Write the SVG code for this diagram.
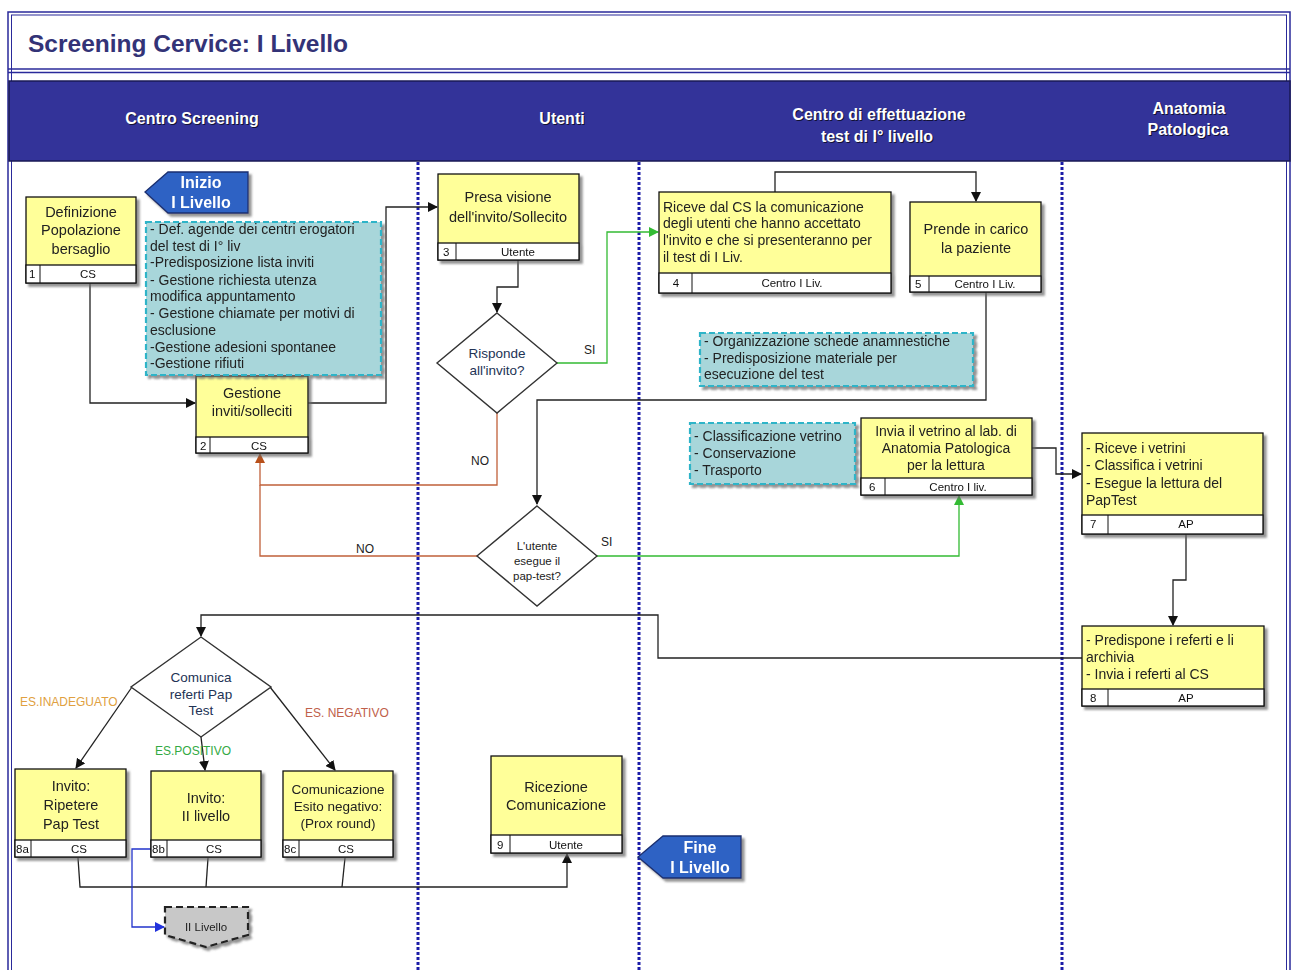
<svg xmlns="http://www.w3.org/2000/svg" width="1293" height="970" viewBox="0 0 1293 970">
<style>
.box{fill:#ffff99;stroke:#111;stroke-width:1.3}
.ft{fill:#fff;stroke:#111;stroke-width:1.3}
.t{font-family:"Liberation Sans",Arial,sans-serif;font-size:14.5px;fill:#222;text-anchor:middle}
.tl{font-family:"Liberation Sans",Arial,sans-serif;font-size:14px;fill:#222}
.f{font-family:"Liberation Sans",Arial,sans-serif;font-size:11.5px;fill:#111;text-anchor:middle}
.fn{font-family:"Liberation Sans",Arial,sans-serif;font-size:11.5px;fill:#111}
.note{fill:#a8d6da;stroke:#2fb4c8;stroke-width:2.2;stroke-dasharray:6,3}
.dia{fill:#fff;stroke:#333;stroke-width:1.4}
.dt{font-family:"Liberation Sans",Arial,sans-serif;font-size:13.5px;fill:#223355;text-anchor:middle}
.hd{font-family:"Liberation Sans",Arial,sans-serif;font-size:16px;font-weight:bold;fill:#fff;text-anchor:middle}
.hds{font-family:"Liberation Sans",Arial,sans-serif;font-size:16px;font-weight:bold;fill:#111133;text-anchor:middle}
.lane{stroke:#1c1ca8;stroke-width:3;stroke-dasharray:3,2}
.c{fill:none;stroke:#222;stroke-width:1.3}
.cg{fill:none;stroke:#33bb33;stroke-width:1.3}
.co{fill:none;stroke:#c0603a;stroke-width:1.3}
.cb{fill:none;stroke:#2233cc;stroke-width:1.3}
.lbl{font-family:"Liberation Sans",Arial,sans-serif;font-size:12px;fill:#222}
.blue{fill:#2f62c4;stroke:#1a2f70;stroke-width:1.3}
.bt{font-family:"Liberation Sans",Arial,sans-serif;font-size:16px;font-weight:bold;fill:#fff;text-anchor:middle}
</style>
<defs>
<filter id="sh" x="-10%" y="-10%" width="130%" height="130%">
<feDropShadow dx="3" dy="3" stdDeviation="1" flood-color="#666" flood-opacity="0.7"/>
</filter>
<marker id="ak" markerWidth="10" markerHeight="10" refX="9" refY="5" orient="auto" markerUnits="userSpaceOnUse"><path d="M0,0 L10,5 L0,10 z" fill="#111"/></marker>
<marker id="ag" markerWidth="10" markerHeight="10" refX="9" refY="5" orient="auto" markerUnits="userSpaceOnUse"><path d="M0,0 L10,5 L0,10 z" fill="#33bb33"/></marker>
<marker id="ao" markerWidth="10" markerHeight="10" refX="9" refY="5" orient="auto" markerUnits="userSpaceOnUse"><path d="M0,0 L10,5 L0,10 z" fill="#b8501a"/></marker>
<marker id="ab" markerWidth="10" markerHeight="10" refX="9" refY="5" orient="auto" markerUnits="userSpaceOnUse"><path d="M0,0 L10,5 L0,10 z" fill="#2233dd"/></marker>
</defs>
<rect width="1293" height="970" fill="#fff"/>
<g id="frame">
<rect x="8" y="12" width="1282" height="962" fill="none" stroke="#2a2a9a" stroke-width="1.5"/>
<rect x="11.5" y="15" width="1275" height="960" fill="none" stroke="#2a2a9a" stroke-width="1"/>
<line x1="8" y1="69" x2="1290" y2="69" stroke="#2a2a9a" stroke-width="1.5"/>
<line x1="8" y1="72.5" x2="1290" y2="72.5" stroke="#2a2a9a" stroke-width="1.5"/>
<rect x="9" y="81" width="1281" height="80" fill="#333399" stroke="#1a1a55" stroke-width="1.5"/>
<text x="28" y="52" font-family="'Liberation Sans',Arial,sans-serif" font-size="24.5" font-weight="bold" fill="#333377">Screening Cervice: I Livello</text>
<text x="193" y="125" class="hds">Centro Screening</text><text x="192" y="124" class="hd">Centro Screening</text>
<text x="563" y="125" class="hds">Utenti</text><text x="562" y="124" class="hd">Utenti</text>
<text x="880" y="121" class="hds">Centro di effettuazione</text><text x="879" y="120" class="hd">Centro di effettuazione</text>
<text x="878" y="143" class="hds">test di I° livello</text><text x="877" y="142" class="hd">test di I° livello</text>
<text x="1190" y="115" class="hds">Anatomia</text><text x="1189" y="114" class="hd">Anatomia</text>
<text x="1189" y="136" class="hds">Patologica</text><text x="1188" y="135" class="hd">Patologica</text>
<line x1="418" y1="162" x2="418" y2="970" class="lane"/>
<line x1="639" y1="162" x2="639" y2="970" class="lane"/>
<line x1="1062" y1="162" x2="1062" y2="970" class="lane"/>
</g>
<g id="connectors">
<path class="c" d="M90,283 V403 H195" marker-end="url(#ak)"/>
<path class="c" d="M308,403 H386 V207 H437" marker-end="url(#ak)"/>
<path class="c" d="M518,260 V287 H497 V312" marker-end="url(#ak)"/>
<path class="cg" d="M556,363 H607 V232 H658" marker-end="url(#ag)"/>
<path class="co" d="M497,413 V485 H260 V454" marker-end="url(#ao)"/>
<path class="co" d="M477,556 H260 V485"/>
<path class="c" d="M775,192 V172 H976 V201" marker-end="url(#ak)"/>
<path class="c" d="M986,292 V400 H537 V504" marker-end="url(#ak)"/>
<path class="cg" d="M597,556 H959 V496" marker-end="url(#ag)"/>
<path class="c" d="M1032,448 H1056 V474 H1081" marker-end="url(#ak)"/>
<path class="c" d="M1186,534 V580 H1173 V625" marker-end="url(#ak)"/>
<path class="c" d="M1082,658 H658 V615 H201 V636" marker-end="url(#ak)"/>
<path class="c" d="M132,687 L76,768" marker-end="url(#ak)" stroke-width="1.6"/>
<path class="c" d="M201,737 L205,770" marker-end="url(#ak)" stroke-width="1.6"/>
<path class="c" d="M270,687 L335,770" marker-end="url(#ak)" stroke-width="1.6"/>
<path class="c" d="M78,858 L80,887 H567 V854" marker-end="url(#ak)"/>
<path class="c" d="M208,858 L206,887"/>
<path class="c" d="M345,858 L342,887"/>
<path class="cb" d="M151,849 H132 V927 H164" marker-end="url(#ab)"/>
<text x="584" y="354" class="lbl">SI</text>
<text x="471" y="465" class="lbl">NO</text>
<text x="356" y="553" class="lbl">NO</text>
<text x="601" y="546" class="lbl">SI</text>
<text x="20" y="706" class="lbl" style="fill:#e0a040">ES.INADEGUATO</text>
<text x="155" y="755" class="lbl" style="fill:#33aa44">ES.POSITIVO</text>
<text x="305" y="717" class="lbl" style="fill:#c0604a">ES. NEGATIVO</text>
</g>
<g id="inizio" filter="url(#sh)">
<polygon class="blue" points="145,192 168,172 248,172 248,213 168,213"/>
<text x="201" y="188" class="bt">Inizio</text>
<text x="201" y="208" class="bt">I Livello</text>
</g>
<g id="n1" filter="url(#sh)">
<rect class="box" x="26" y="197" width="110" height="86"/>
<rect class="ft" x="26" y="265" width="110" height="18"/>
<line x1="40" y1="265" x2="40" y2="283" stroke="#111"/>
<text x="81" y="217" class="t">Definizione</text>
<text x="81" y="235" class="t">Popolazione</text>
<text x="81" y="254" class="t">bersaglio</text>
<text x="29" y="278" class="fn">1</text><text x="88" y="278" class="f">CS</text>
</g>
<g id="n2" filter="url(#sh)">
<rect class="box" x="196" y="376" width="112" height="77"/>
<rect class="ft" x="196" y="437" width="112" height="16"/>
<line x1="210" y1="437" x2="210" y2="453" stroke="#111"/>
<text x="252" y="398" class="t">Gestione</text>
<text x="252" y="416" class="t">inviti/solleciti</text>
<text x="200" y="450" class="fn">2</text><text x="259" y="450" class="f">CS</text>
</g>
<g id="note1" filter="url(#sh)">
<rect class="note" x="146" y="222" width="235" height="153"/>
<text x="150" y="234" class="tl">- Def. agende dei centri erogatori</text>
<text x="150" y="251" class="tl">del test di I° liv</text>
<text x="150" y="267" class="tl">-Predisposizione lista inviti</text>
<text x="150" y="285" class="tl">- Gestione richiesta utenza</text>
<text x="150" y="301" class="tl">modifica appuntamento</text>
<text x="150" y="318" class="tl">- Gestione chiamate per motivi di</text>
<text x="150" y="335" class="tl">esclusione</text>
<text x="150" y="352" class="tl">-Gestione adesioni spontanee</text>
<text x="150" y="368" class="tl">-Gestione rifiuti</text>
</g>
<g id="n3" filter="url(#sh)">
<rect class="box" x="438" y="174" width="141" height="86"/>
<rect class="ft" x="438" y="243" width="141" height="17"/>
<line x1="456" y1="243" x2="456" y2="260" stroke="#111"/>
<text x="508" y="202" class="t">Presa visione</text>
<text x="508" y="222" class="t">dell'invito/Sollecito</text>
<text x="443" y="256" class="fn">3</text><text x="518" y="256" class="f">Utente</text>
</g>
<g id="d1">
<polygon class="dia" points="497,313 557,363 497,413 437,363"/>
<text x="497" y="358" class="dt">Risponde</text>
<text x="497" y="375" class="dt">all'invito?</text>
</g>
<g id="n4" filter="url(#sh)">
<rect class="box" x="659" y="192" width="232" height="101"/>
<rect class="ft" x="659" y="273" width="232" height="20"/>
<line x1="692" y1="273" x2="692" y2="293" stroke="#111"/>
<text x="663" y="212" class="tl">Riceve dal CS  la comunicazione</text>
<text x="663" y="228" class="tl">degli utenti che hanno accettato</text>
<text x="663" y="245" class="tl">l'invito e che si presenteranno per</text>
<text x="663" y="262" class="tl">il test di I Liv.</text>
<text x="676" y="287" class="f">4</text><text x="792" y="287" class="f">Centro I Liv.</text>
</g>
<g id="n5" filter="url(#sh)">
<rect class="box" x="910" y="202" width="131" height="90"/>
<rect class="ft" x="910" y="276" width="131" height="16"/>
<line x1="929" y1="276" x2="929" y2="292" stroke="#111"/>
<text x="976" y="234" class="t">Prende in carico</text>
<text x="976" y="253" class="t">la paziente</text>
<text x="915" y="288" class="fn">5</text><text x="985" y="288" class="f">Centro I Liv.</text>
</g>
<g id="note2" filter="url(#sh)">
<rect class="note" x="700" y="333" width="273" height="53"/>
<text x="704" y="346" class="tl">- Organizzazione schede anamnestiche</text>
<text x="704" y="363" class="tl">- Predisposizione materiale per</text>
<text x="704" y="379" class="tl">esecuzione del test</text>
</g>
<g id="note3" filter="url(#sh)">
<rect class="note" x="690" y="423" width="165" height="61"/>
<text x="694" y="441" class="tl">- Classificazione vetrino</text>
<text x="694" y="458" class="tl">- Conservazione</text>
<text x="694" y="475" class="tl">- Trasporto</text>
</g>
<g id="n6" filter="url(#sh)">
<rect class="box" x="861" y="418" width="171" height="77"/>
<rect class="ft" x="861" y="478" width="171" height="17"/>
<line x1="885" y1="478" x2="885" y2="495" stroke="#111"/>
<text x="946" y="436" class="t" style="font-size:14px">Invia il vetrino al lab. di</text>
<text x="946" y="453" class="t" style="font-size:14px">Anatomia Patologica</text>
<text x="946" y="470" class="t" style="font-size:14px">per la lettura</text>
<text x="869" y="491" class="fn">6</text><text x="958" y="491" class="f">Centro I liv.</text>
</g>
<g id="d2">
<polygon class="dia" points="537,506 597,556 537,606 477,556"/>
<text x="537" y="550" class="dt" style="font-size:11.5px;fill:#222">L'utente</text>
<text x="537" y="565" class="dt" style="font-size:11.5px;fill:#222">esegue il</text>
<text x="537" y="580" class="dt" style="font-size:11.5px;fill:#222">pap-test?</text>
</g>
<g id="n7" filter="url(#sh)">
<rect class="box" x="1082" y="433" width="181" height="101"/>
<rect class="ft" x="1082" y="515" width="181" height="19"/>
<line x1="1108" y1="515" x2="1108" y2="534" stroke="#111"/>
<text x="1086" y="453" class="tl">- Riceve i vetrini</text>
<text x="1086" y="470" class="tl">- Classifica i vetrini</text>
<text x="1086" y="488" class="tl">- Esegue la lettura del</text>
<text x="1086" y="505" class="tl">PapTest</text>
<text x="1090" y="528" class="fn">7</text><text x="1186" y="528" class="f">AP</text>
</g>
<g id="n8" filter="url(#sh)">
<rect class="box" x="1082" y="626" width="182" height="80"/>
<rect class="ft" x="1082" y="689" width="182" height="17"/>
<line x1="1108" y1="689" x2="1108" y2="706" stroke="#111"/>
<text x="1086" y="645" class="tl">- Predispone i referti e li</text>
<text x="1086" y="662" class="tl">archivia</text>
<text x="1086" y="679" class="tl">- Invia i referti al CS</text>
<text x="1090" y="702" class="fn">8</text><text x="1186" y="702" class="f">AP</text>
</g>
<g id="d3">
<polygon class="dia" points="201,637 271,687 201,737 131,687"/>
<text x="201" y="682" class="dt">Comunica</text>
<text x="201" y="699" class="dt">referti Pap</text>
<text x="201" y="715" class="dt">Test</text>
</g>
<g id="n8a" filter="url(#sh)">
<rect class="box" x="15" y="769" width="111" height="88"/>
<rect class="ft" x="15" y="840" width="111" height="17"/>
<line x1="31" y1="840" x2="31" y2="857" stroke="#111"/>
<text x="71" y="791" class="t">Invito:</text>
<text x="71" y="810" class="t">Ripetere</text>
<text x="71" y="829" class="t">Pap Test</text>
<text x="16" y="853" class="fn">8a</text><text x="79" y="853" class="f">CS</text>
</g>
<g id="n8b" filter="url(#sh)">
<rect class="box" x="151" y="771" width="110" height="86"/>
<rect class="ft" x="151" y="840" width="110" height="17"/>
<line x1="167" y1="840" x2="167" y2="857" stroke="#111"/>
<text x="206" y="803" class="t">Invito:</text>
<text x="206" y="821" class="t">II livello</text>
<text x="152" y="853" class="fn">8b</text><text x="214" y="853" class="f">CS</text>
</g>
<g id="n8c" filter="url(#sh)">
<rect class="box" x="283" y="771" width="110" height="86"/>
<rect class="ft" x="283" y="840" width="110" height="17"/>
<line x1="299" y1="840" x2="299" y2="857" stroke="#111"/>
<text x="338" y="794" class="t" style="font-size:13.5px">Comunicazione</text>
<text x="338" y="811" class="t" style="font-size:13.5px">Esito negativo:</text>
<text x="338" y="828" class="t" style="font-size:13.5px">(Prox round)</text>
<text x="284" y="853" class="fn">8c</text><text x="346" y="853" class="f">CS</text>
</g>
<g id="n9" filter="url(#sh)">
<rect class="box" x="491" y="756" width="131" height="97"/>
<rect class="ft" x="491" y="835" width="131" height="18"/>
<line x1="510" y1="835" x2="510" y2="853" stroke="#111"/>
<text x="556" y="792" class="t">Ricezione</text>
<text x="556" y="810" class="t">Comunicazione</text>
<text x="497" y="849" class="fn">9</text><text x="566" y="849" class="f">Utente</text>
</g>
<g id="fine" filter="url(#sh)">
<polygon class="blue" points="638,857 663,836 741,836 741,878 663,878"/>
<text x="700" y="853" class="bt">Fine</text>
<text x="700" y="873" class="bt">I Livello</text>
</g>
<g id="liv2" filter="url(#sh)">
<polygon points="165,907 248,907 248,935 206,947 165,935" fill="#c8c8c8" stroke="#222" stroke-width="2.2" stroke-dasharray="7,4"/>
<text x="206" y="931" class="f" style="fill:#222">II Livello</text>
</g>
</svg>
